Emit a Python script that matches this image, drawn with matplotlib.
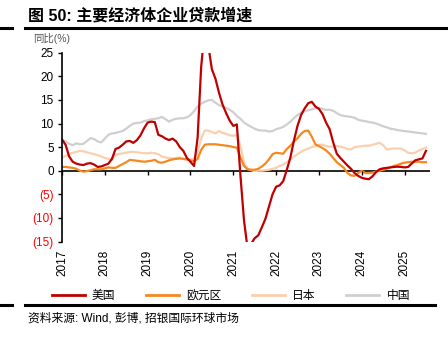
"""Corporate loan growth of major economies (yoy, %), 2017-2025."""

import matplotlib
matplotlib.use("Agg")
import matplotlib.pyplot as plt
from matplotlib.lines import Line2D
import numpy as np

plt.rcParams["font.family"] = ["Liberation Sans", "Noto Sans CJK SC"]

START_YEAR = 2017
YEARS = list(range(2017, 2026))

us = [6.6, 5.5, 3.0, 1.9, 1.5, 1.3, 1.2, 1.5, 1.6, 1.3, 0.8, 0.9,
      1.2, 1.5, 2.5, 4.6, 4.9, 5.5, 6.2, 6.3, 5.9, 6.5, 7.5, 9.0,
      10.2, 10.4, 10.3, 7.6, 7.3, 6.8, 6.5, 6.8, 6.2, 5.0, 4.2, 2.7,
      1.9, 1.0, 7.0, 22.0, 30.0, 26.5, 21.5, 19.5, 16.5, 14.0, 12.2, 10.6,
      9.5, 9.8, -1.0, -10.5, -16.5, -15.5, -14.3, -13.7, -12.0, -10.2, -7.6, -5.0,
      -3.4, -3.1, -2.2, 0.2, 2.8, 6.4, 9.5, 11.8, 13.2, 14.3, 14.6, 13.6,
      13.1, 12.0, 10.2, 8.8, 6.0, 3.6, 2.7, 1.9, 1.1, 0.4, -0.5, -1.1,
      -1.5, -1.7, -1.8, -1.2, -0.3, 0.3, 0.5, 0.6, 0.7, 0.8, 0.85, 0.8,
      0.7, 0.8, 1.5, 2.2, 2.4, 2.6, 4.2]

euro = [0.8, 0.8, 0.7, 0.6, 0.4, 0.0, -0.2, -0.1, 0.1, 0.3, 0.3, 0.3,
        0.5, 0.7, 0.6, 0.6, 1.0, 1.4, 1.8, 2.3, 2.2, 2.1, 2.0, 1.9,
        2.0, 2.1, 2.3, 1.8, 1.7, 1.9, 2.2, 2.4, 2.5, 2.6, 2.5, 2.4,
        2.2, 2.0, 2.5, 4.4, 5.5, 5.6, 5.6, 5.6, 5.5, 5.4, 5.3, 5.2,
        5.0, 4.9, 2.8, 1.0, 0.3, 0.2, 0.2, 0.4, 0.9, 1.5, 2.4, 3.5,
        3.8, 3.7, 3.6, 4.6, 5.3, 6.2, 6.9, 7.8, 8.4, 8.5, 7.2, 5.6,
        5.2, 4.8, 4.3, 3.6, 2.7, 1.8, 1.2, 0.6, -0.5, -1.0, -1.1, -0.5,
        0.0, -0.5, -0.5, -0.4, -0.2, 0.0, 0.2, 0.4, 0.7, 1.0, 1.2, 1.5,
        1.7, 1.8, 1.9, 1.9, 1.9, 1.8, 1.8]

japan = [2.8, 3.1, 3.5, 3.8, 4.0, 4.2, 4.1, 3.9, 3.7, 3.5, 3.3, 3.0,
         2.7, 2.5, 2.3, 3.4, 3.5, 3.7, 3.8, 4.0, 4.0, 3.9, 3.8, 3.7,
         3.7, 3.8, 3.7, 3.5, 3.0, 2.8, 2.7, 2.6, 2.7, 2.8, 2.5, 2.3,
         2.4, 2.4, 4.0, 6.8, 8.5, 8.5, 8.2, 7.9, 8.4, 8.0, 7.8, 7.5,
         7.4, 7.6, 5.2, 1.8, 0.4, 0.1, -0.1, 0.0, 0.0, 0.1, 0.2, 0.4,
         0.6, 1.0, 1.3, 1.8, 2.4, 3.0, 3.5, 4.0, 4.4, 4.7, 5.0, 5.2,
         5.5, 5.5, 5.2, 5.1, 5.1, 5.2, 5.1, 4.9, 4.6, 4.5, 5.0, 5.1,
         5.2, 5.3, 5.3, 5.5, 5.7, 5.9, 5.4, 4.5, 4.6, 4.7, 4.7, 4.7,
         4.3, 3.8, 3.7, 3.8, 4.3, 4.6, 4.9]

china = [6.5, 6.2, 5.7, 5.4, 5.8, 5.6, 5.7, 6.3, 6.9, 6.7, 6.2, 6.0,
         6.8, 7.6, 7.9, 8.0, 8.2, 8.4, 8.9, 9.5, 10.0, 10.1, 10.2, 10.5,
         10.7, 10.9, 11.0, 11.1, 11.4, 10.9, 10.4, 10.8, 11.0, 11.1, 11.1, 11.3,
         11.8, 12.6, 13.6, 14.2, 14.6, 14.9, 15.0, 14.4, 13.9, 13.6, 13.3, 12.9,
         12.4, 11.6, 11.0, 10.2, 9.7, 9.3, 8.9, 8.6, 8.5, 8.5, 8.3, 8.4,
         8.8, 9.0, 9.3, 9.8, 10.4, 11.1, 11.8, 12.3, 12.6, 12.8, 13.0, 13.2,
         13.3, 13.1, 12.9, 12.9, 12.7, 12.2, 11.8, 11.6, 11.5, 11.4, 11.2, 10.8,
         10.6, 10.5, 10.3, 10.2, 10.0, 9.7, 9.4, 9.2, 8.9, 8.8, 8.6, 8.5,
         8.4, 8.3, 8.2, 8.1, 8.0, 7.9, 7.8]

series = [("美国", us, "#C00000"),
          ("欧元区", euro, "#F5891F"),
          ("日本", japan, "#FBCFAE"),
          ("中国", china, "#CFCFCF")]

t = START_YEAR + np.arange(len(us)) / 12.0

fig = plt.figure(figsize=(4.48, 3.4), dpi=100)
ax = fig.add_axes([0.1384, 0.2897, 0.822, 0.5553])

# draw back to front: China, Japan, Euro, US
for name, vals, color in reversed(series):
    ax.plot(t, vals, color=color, linewidth=1.6, label=name)

ax.set_xlim(2017, 2025.6)
ax.set_ylim(-15, 25)
yticks = list(range(-15, 30, 5))
ax.set_yticks(yticks)
ax.set_yticklabels([f"({abs(v)})" if v < 0 else str(v) for v in yticks],
                   fontsize=8.5)
for lbl, v in zip(ax.get_yticklabels(), yticks):
    if v < 0:
        lbl.set_color("#FF0000")
ax.tick_params(axis="y", length=3, width=1, pad=3)

ax.set_xticks(YEARS)
ax.set_xticklabels([str(y) for y in YEARS], rotation=90, fontsize=8.5)
ax.tick_params(axis="x", length=0, pad=6)

for s in ("top", "right", "bottom"):
    ax.spines[s].set_visible(False)
ax.spines["left"].set_linewidth(1.2)

# zero line with year ticks
ax.axhline(0, color="black", linewidth=1.2, zorder=1)
ax.plot(YEARS, np.zeros(len(YEARS)), linestyle="none", marker=3,
        markersize=3, markeredgewidth=1, color="black", clip_on=False)

fig.text(0.074, 0.875, "同比(%)", fontsize=7.5, color="#555555")

# title and rules
fig.text(0.062, 0.955, "图 50: 主要经济体企业贷款增速", fontsize=11.5,
         fontweight="bold", va="center")
fig.add_artist(Line2D([0.056, 1.0], [0.917, 0.917], color="black",
                      linewidth=2.2))
fig.add_artist(Line2D([0.0, 0.027], [0.917, 0.917], color="black",
                      linewidth=2.2))
fig.add_artist(Line2D([0.056, 0.972], [0.103, 0.103], color="black",
                      linewidth=2.2))
fig.add_artist(Line2D([0.0, 0.027], [0.103, 0.103], color="black",
                      linewidth=2.2))

handles = [Line2D([], [], color=c, linewidth=2) for _, _, c in series]
fig.legend(handles, [n for n, _, _ in series], loc="center",
           bbox_to_anchor=(0.515, 0.128), ncol=4, frameon=False,
           fontsize=8.5, handlelength=2.8, handletextpad=0.6,
           columnspacing=2.6)

fig.text(0.062, 0.062, "资料来源: Wind, 彭博, 招银国际环球市场", fontsize=8.5,
         va="center")

fig.savefig("out.png", dpi=100)
